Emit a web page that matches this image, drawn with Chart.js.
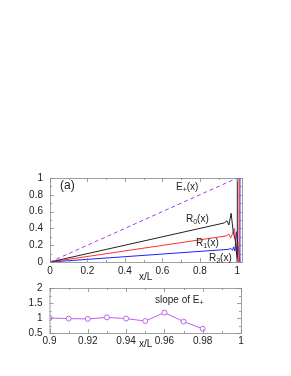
<!DOCTYPE html>
<html>
<head>
<meta charset="utf-8">
<script src="https://cdn.jsdelivr.net/npm/chart.js@4"></script>
<style>
  body { margin: 0; background: #fff; width: 291px; height: 376px; position: relative; overflow: hidden; }
  canvas { position: absolute; left: 0; }
  #top { top: 165px; }
  #bottom { top: 275px; }
</style>
</head>
<body>
<canvas id="top" width="291" height="115"></canvas>
<canvas id="bottom" width="291" height="75"></canvas>
<script>
// Top panel data (x/L)
const xEplus = [0, 1];
const yEplus = [0, 1];
const xR0 = [0, 0.93, 0.945, 0.955, 0.967, 0.978, 0.99, 1.0, 1.0];
const yR0 = [0, 0.465, 0.49, 0.44, 0.58, 0.36, 0.25, 0.0, 1.05];
const xR1 = [0, 0.94, 0.955, 0.965, 0.975, 0.985, 0.998, 1.009, 1.009];
const yR1 = [0, 0.31, 0.33, 0.29, 0.34, 0.40, 0.10, 0.0, 1.05];
const xR2 = [0, 0.95, 0.965, 0.975, 0.98, 0.987, 0.995, 1.014, 1.014];
const yR2 = [0, 0.15, 0.16, 0.14, 0.18, 0.13, 0.36, 0.0, 1.05];
const topXTicks = [0, 0.2, 0.4, 0.6, 0.8, 1];
const topYTicks = [0, 0.2, 0.4, 0.6, 0.8, 1];

// Bottom panel data
const xSlope = [0.9, 0.91, 0.92, 0.93, 0.94, 0.95, 0.96, 0.97, 0.98];
const ySlope = [1.0, 0.98, 0.97, 1.02, 0.98, 0.90, 1.18, 0.88, 0.64];
const botXTicks = [0.9, 0.92, 0.94, 0.96, 0.98, 1];
const botYTicks = [0.5, 1, 1.5, 2];

const FONT = 'Liberation Sans, Arial, sans-serif';

function pts(xs, ys) {
    return xs.map((x, i) => ({ x: x, y: ys[i] }));
}

function fmt(v) {
    return String(Math.round(v * 100) / 100);
}

// nudge layout padding until the plot box sits where the reference has it
function pinArea(chart, pad, target) {
    for (let k = 0; k < 4; k++) {
        const a = chart.chartArea;
        pad.top = Math.max(0, pad.top + target.top - a.top);
        pad.bottom = Math.max(0, pad.bottom + a.bottom - target.bottom);
        pad.left = Math.max(0, pad.left + target.left - a.left);
        pad.right = Math.max(0, pad.right + a.right - target.right);
        chart.update();
    }
}

// frame + inward ticks like gnuplot
function framePlugin(xMinor, yMinor) {
    return {
        id: 'frame',
        afterDatasetsDraw(chart) {
            const ctx = chart.ctx;
            const a = chart.chartArea;
            const xs = chart.scales.x, ys = chart.scales.y;
            ctx.save();
            ctx.strokeStyle = '#888';
            ctx.lineWidth = 0.8;
            ctx.strokeRect(a.left + 0.5, a.top + 0.5, a.right - a.left, a.bottom - a.top);
            ctx.beginPath();
            xMinor.forEach(v => {
                const major = xs.ticks.some(t => Math.abs(t.value - v) < 1e-9);
                const len = major ? 4 : 2;
                const px = Math.round(xs.getPixelForValue(v)) + 0.5;
                ctx.moveTo(px, a.bottom); ctx.lineTo(px, a.bottom - len);
                ctx.moveTo(px, a.top); ctx.lineTo(px, a.top + len);
            });
            yMinor.forEach(v => {
                const major = ys.ticks.some(t => Math.abs(t.value - v) < 1e-9);
                const len = major ? 4 : 2;
                const py = Math.round(ys.getPixelForValue(v)) + 0.5;
                ctx.moveTo(a.left, py); ctx.lineTo(a.left + len, py);
                ctx.moveTo(a.right, py); ctx.lineTo(a.right - len, py);
            });
            ctx.stroke();
            ctx.restore();
        }
    };
}

// text with a subscript part
function drawSub(ctx, x, y, base, sub, rest, size) {
    ctx.font = size + 'px ' + FONT;
    ctx.fillText(base, x, y);
    let w = ctx.measureText(base).width;
    ctx.font = Math.round(size * 0.65) + 'px ' + FONT;
    ctx.fillText(sub, x + w, y + 3);
    w += ctx.measureText(sub).width;
    ctx.font = size + 'px ' + FONT;
    ctx.fillText(rest, x + w, y);
}

const topLabels = {
    id: 'topLabels',
    afterDraw(chart) {
        const ctx = chart.ctx;
        ctx.save();
        ctx.fillStyle = '#222';
        ctx.textBaseline = 'middle';
        ctx.font = '12px ' + FONT;
        ctx.fillText('(a)', 60, 21);
        drawSub(ctx, 176, 22, 'E', '+', '(x)', 10);
        drawSub(ctx, 186, 54, 'R', '0', '(x)', 10);
        drawSub(ctx, 196, 78, 'R', '1', '(x)', 10);
        drawSub(ctx, 209, 93, 'R', '2', '(x)', 10);
        ctx.font = '10px ' + FONT;
        ctx.fillText('x/L', 139, 112);
        ctx.restore();
    }
};

const botLabels = {
    id: 'botLabels',
    afterDraw(chart) {
        const ctx = chart.ctx;
        ctx.save();
        ctx.fillStyle = '#222';
        ctx.textBaseline = 'middle';
        drawSub(ctx, 155, 25, 'slope of E', '+', '', 10);
        ctx.font = '10px ' + FONT;
        ctx.fillText('x/L', 139, 69);
        ctx.restore();
    }
};

const tickFont = { family: FONT, size: 10 };

function lineSet(xs, ys, color, dash) {
    return {
        data: pts(xs, ys),
        borderColor: color,
        borderWidth: 1,
        borderDash: dash || [],
        pointRadius: 0,
        tension: 0,
        clip: 0
    };
}

const minorTop = [];
for (let i = 0; i <= 10; i++) minorTop.push(i / 10);

const topPad = { top: 9, right: 49, left: 0, bottom: 0 };
const topChart = new Chart(document.getElementById('top'), {
    type: 'scatter',
    data: {
        datasets: [
            lineSet(xEplus, yEplus, '#a040f0', [4, 3]),
            lineSet(xR0, yR0, '#222222'),
            lineSet(xR1, yR1, '#ff3030'),
            lineSet(xR2, yR2, '#2020ff')
        ]
    },
    options: {
        responsive: false,
        animation: false,
        showLine: true,
        layout: { padding: topPad },
        plugins: { legend: { display: false }, tooltip: { enabled: false } },
        scales: {
            x: {
                type: 'linear', min: 0, max: 1.025,
                afterBuildTicks: s => { s.ticks = topXTicks.map(v => ({ value: v })); },
                grid: { display: false, drawTicks: false },
                border: { display: false },
                ticks: { font: tickFont, color: '#222', padding: 3, maxRotation: 0, callback: fmt }
            },
            y: {
                type: 'linear', min: 0, max: 1,
                afterFit: s => { s.width = 50; },
                afterBuildTicks: s => { s.ticks = topYTicks.map(v => ({ value: v })); },
                grid: { display: false, drawTicks: false },
                border: { display: false },
                ticks: { font: tickFont, color: '#222', padding: 7, callback: fmt }
            }
        }
    },
    plugins: [framePlugin(minorTop, minorTop), topLabels]
});
pinArea(topChart, topPad, { left: 50, top: 9, right: 242, bottom: 99 });

const minorBotX = [];
for (let i = 0; i <= 10; i++) minorBotX.push(0.9 + i / 100);
const minorBotY = [0.5, 0.75, 1, 1.25, 1.5, 1.75, 2];

const botPad = { top: 12, right: 50, left: 0, bottom: 0 };
const botChart = new Chart(document.getElementById('bottom'), {
    type: 'scatter',
    data: {
        datasets: [{
            data: pts(xSlope, ySlope),
            borderColor: '#c060f0',
            backgroundColor: '#ffffff',
            borderWidth: 1,
            pointRadius: 2.5,
            pointBorderWidth: 1,
            pointBorderColor: '#c060f0',
            pointBackgroundColor: '#ffffff',
            showLine: true,
            tension: 0
        }]
    },
    options: {
        responsive: false,
        animation: false,
        layout: { padding: botPad },
        plugins: { legend: { display: false }, tooltip: { enabled: false } },
        scales: {
            x: {
                type: 'linear', min: 0.9, max: 1,
                afterBuildTicks: s => { s.ticks = botXTicks.map(v => ({ value: v })); },
                grid: { display: false, drawTicks: false },
                border: { display: false },
                ticks: { font: tickFont, color: '#222', padding: 2, maxRotation: 0, callback: fmt }
            },
            y: {
                type: 'linear', min: 0.5, max: 2,
                afterFit: s => { s.width = 49.5; },
                afterBuildTicks: s => { s.ticks = botYTicks.map(v => ({ value: v })); },
                grid: { display: false, drawTicks: false },
                border: { display: false },
                ticks: { font: tickFont, color: '#222', padding: 7, callback: fmt }
            }
        }
    },
    plugins: [framePlugin(minorBotX, minorBotY), botLabels]
});
pinArea(botChart, botPad, { left: 49.5, top: 12, right: 241, bottom: 58 });
</script>
</body>
</html>
